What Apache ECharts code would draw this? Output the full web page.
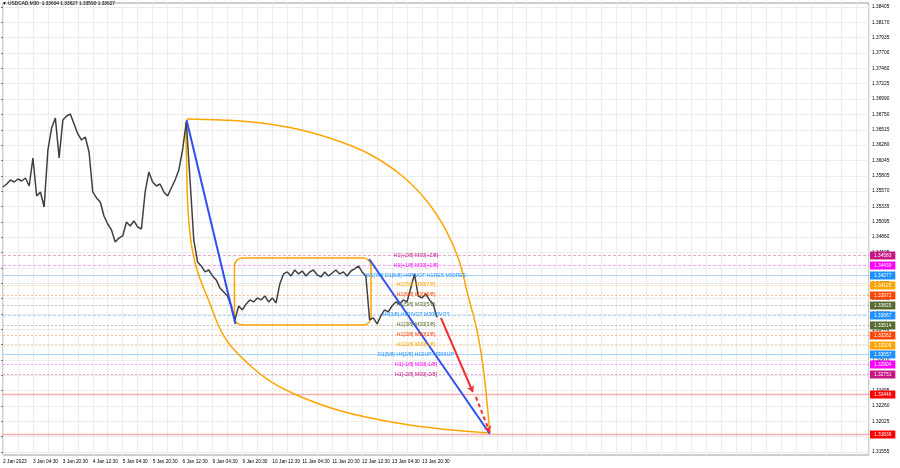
<!DOCTYPE html>
<html>
<head>
<meta charset="utf-8">
<script src="https://cdn.jsdelivr.net/npm/echarts@6/dist/echarts.min.js"></script>
<style>html,body{margin:0;padding:0;background:#fff}#c{width:900px;height:468px}</style>
</head>
<body>
<div id="c"></div>
<script>
// ---------- data ----------
const titleText = "\u25BC USDCAD,M30  1.33604 1.33627 1.33590 1.33627";
const timeLabels = ["2 Jan 2023","3 Jan 04:30","3 Jan 20:30","4 Jan 12:30","5 Jan 04:30","5 Jan 20:30","6 Jan 12:30","9 Jan 04:30","9 Jan 20:30","10 Jan 12:30","11 Jan 04:30","11 Jan 20:30","12 Jan 12:30","13 Jan 04:30","13 Jan 20:30"];
const priceTickLabels = ["1.31555","1.31790","1.32025","1.32260","1.32495","1.32735","1.32970","1.33210","1.33440","1.33680","1.33915","1.34155","1.34390","1.34625","1.34860","1.35095","1.35335","1.35570","1.35805","1.36045","1.36280","1.36515","1.36750","1.36990","1.37225","1.37460","1.37700","1.37935","1.38170","1.38405"];
// closes sampled every 4 M30 bars
const closes = [1.35635,1.35681,1.35743,1.35712,1.35758,1.35727,1.35773,1.35650,1.36081,1.35496,
1.35558,1.35327,1.36204,1.36543,1.36697,1.36081,1.36666,1.36728,1.36758,1.36604,
1.36451,1.36358,1.36404,1.36173,1.35558,1.35466,1.35404,1.35189,1.35065,1.34973,
1.34788,1.34850,1.34881,1.35096,1.35035,1.35112,1.35019,1.34988,1.35558,1.35866,
1.35712,1.35650,1.35681,1.35558,1.35496,1.35619,1.35743,1.35896,1.36204,1.36635,
1.35743,1.34819,1.34481,1.34419,1.34327,1.34357,1.34265,1.34204,1.34080,1.34019,
1.33957,1.33803,1.33588,1.33803,1.33742,1.33834,1.33896,1.33865,1.33927,1.33896,
1.33957,1.33865,1.33927,1.33850,1.34142,1.34296,1.34327,1.34265,1.34357,1.34296,
1.34342,1.34265,1.34327,1.34357,1.34281,1.34250,1.34327,1.34265,1.34311,1.34357,
1.34296,1.34327,1.34265,1.34342,1.34373,1.34419,1.34327,1.34265,1.33588,1.33619,
1.33526,1.33650,1.33742,1.33711,1.33803,1.33865,1.33834,1.33896,1.33865,1.34080,
1.34296,1.33957,1.33927,1.33988,1.33896,1.33834,1.33627];
const barStep = 4;

const levelValues = [1.34583,1.34430,1.34277,1.34125,1.33972,1.33820,1.33667,1.33514,1.33362,1.33209,1.33057,1.32904,1.32751];
const levelTexts = ["H1[+2/8] M30[+2/8]","H1[+1/8] M30[+1/8]","W1[7/8] D1[6/8] H4PIVOT H1RES M30RES","H1[7/8] M30[7/8]","H1[6/8] M30[6/8]","H1[5/8] M30[5/8]","H4[3/8] H1PIVOT M30PIVOT","H1[3/8] M30[3/8]","H1[2/8] M30[2/8]","H1[1/8] M30[1/8]","D1[5/8] H4[2/8] H1SUP M30SUP","H1[-1/8] M30[-1/8]","H1[-2/8] M30[-2/8]"];
const redLevels = [1.32446, 1.31836];

// annotation anchors (bar index, price)
const blueLineA = [[196.3,1.36666],[248.5,1.33525]];
const blueLineB = [[391.5,1.34526],[520.5,1.31836]];
const redArrowSolid = [[468.3,1.33618],[502.4,1.32479]];
const redArrowDashed = [[505.6,1.32402],[520.5,1.31861]];
const boxTimes = [247.5, 393.6];
const boxPrices = [1.34541, 1.33510];
const arcUpperTimes = [196.3,233.6,276.3,318.9,361.6,393.6,425.6,452.3,473.6,487.5,497.1,506.7,513.1,517.3,520.5];
const arcUpperPrices = [1.36681,1.36666,1.36619,1.36512,1.36327,1.36127,1.35819,1.35434,1.34972,1.34511,1.33972,1.33433,1.32894,1.32355,1.31847];
const arcLowerTimes = [195.2,196.3,197.3,200.5,206.9,219.7,236.8,260.3,286.9,318.9,361.6,414.9,468.3,520.5];
const arcLowerPrices = [1.36635,1.36050,1.35434,1.34849,1.34387,1.33895,1.33325,1.32940,1.32633,1.32402,1.32186,1.32017,1.31909,1.31847];

// ---------- styles ----------
const levelColors = ['#c71585','#ff00ff','#1e90ff','#ffa500','#ff4500','#556b2f','#1e90ff','#556b2f','#ff4500','#ffa500','#1e90ff','#ff00ff','#c71585'];
const levelDash = [[3,2],[3,2],null,[2,2],[2,2],[2,2],[3,2],[2,2],[2,2],[2,2],null,[2,2],[2,2]];
const redColor = '#ff0000';
const FONT = 'Liberation Sans';
const FS = 4.8;
const FS_TEXT = 5.2;
const TEXT_X = 441.6; // bar index where level captions are centred

const priceData = closes.map((c,i)=>[i*barStep, c]);
const zip = (a,b)=>a.map((v,i)=>[v,b[i]]);

const allLevels = levelValues.map((v,i)=>[v,i]).concat(redLevels.map((v,i)=>[v, levelValues.length+i]));
function levelStyle(idx){
  if (idx < levelValues.length) return {color:levelColors[idx], dash:levelDash[idx], width:1, opacity:0.38};
  return {color:redColor, dash:null, width:1.6, opacity:0.32};
}

const chart = echarts.init(document.getElementById('c'), null, {renderer:'canvas'});
chart.setOption({
  animation:false,
  backgroundColor:'#ffffff',
  title:{text:titleText, left:2, top:1, padding:0, textStyle:{fontSize:FS, fontWeight:'normal', color:'#000', fontFamily:FONT}},
  grid:[
    {left:1, right:31, top:3, bottom:13, show:true, borderColor:'#9a9a9a', borderWidth:1, backgroundColor:'transparent'},
    {left:1, right:31, top:7, bottom:16, show:false}
  ],
  xAxis:[
    {type:'value', gridIndex:0, min:0, max:926, interval:16,
     axisLine:{show:false}, axisTick:{show:false},
     axisLabel:{show:true, align:'left', margin:4, fontSize:FS, fontFamily:FONT, color:'#000', showMaxLabel:false, showMinLabel:true,
       formatter:(v)=>{ if (v%32!==0) return ''; const k=v/32; return k<timeLabels.length?timeLabels[k]:''; }},
     splitLine:{show:true, lineStyle:{color:'#ececec', width:1}}},
    {type:'value', gridIndex:1, min:0, max:1, show:false}
  ],
  yAxis:[
    {type:'value', gridIndex:0, min:1.31509, max:1.38467, position:'right', scale:true,
     axisLine:{show:false}, axisTick:{show:false}, axisLabel:{show:false}, splitLine:{show:false}},
    {type:'category', gridIndex:1, position:'right', boundaryGap:false, data:priceTickLabels,
     axisLine:{show:false}, axisTick:{show:true, length:2, inside:false, lineStyle:{color:'#777'}},
     axisLabel:{show:true, margin:3, fontSize:FS, fontFamily:FONT, color:'#000', interval:0, align:'left'},
     splitLine:{show:true, interval:0, lineStyle:{color:'#ececec', width:1}}}
  ],
  series:[
    {type:'custom', name:'levels', xAxisIndex:0, yAxisIndex:0, silent:true, z:2, clip:false,
     data:allLevels,
     renderItem:(params, api)=>{
       const v = api.value(0), idx = api.value(1);
       const st = levelStyle(idx);
       const cs = params.coordSys;
       const y = Math.round(api.coord([0, v])[1]) + 0.5;
       return {type:'group', children:[
         {type:'line', shape:{x1:cs.x, y1:y, x2:cs.x+cs.width, y2:y},
          style:{stroke:st.color, lineWidth:st.width, lineDash:st.dash, opacity:st.opacity}},
         {type:'text', z2:10, style:{text:v.toFixed(5), x:cs.x+cs.width+1, y:y, align:'left', verticalAlign:'middle',
           fill:'#fff', font:FS+'px "'+FONT+'"', backgroundColor:st.color, padding:[1.5,4,1.5,4]}}
       ]};
     }},
    {type:'custom', name:'box', xAxisIndex:0, yAxisIndex:0, silent:true,
     data:[[boxTimes[0], boxPrices[0], boxTimes[1], boxPrices[1]]],
     renderItem:(params, api)=>{
       const p0 = api.coord([api.value(0), api.value(1)]);
       const p1 = api.coord([api.value(2), api.value(3)]);
       return {type:'rect', shape:{x:p0[0], y:p0[1], width:p1[0]-p0[0], height:p1[1]-p0[1], r:8},
               style:{fill:'none', stroke:'#ffa500', lineWidth:1.5}};
     }, z:3},
    {type:'line', name:'arcUpper', data:zip(arcUpperTimes, arcUpperPrices), smooth:0.4, showSymbol:false,
     lineStyle:{color:'#ffa500', width:1.5}, silent:true, z:3},
    {type:'line', name:'arcLower', data:zip(arcLowerTimes, arcLowerPrices), smooth:0.4, showSymbol:false,
     lineStyle:{color:'#ffa500', width:1.5}, silent:true, z:3},
    {type:'line', name:'USDCAD', data:priceData, showSymbol:false, lineStyle:{color:'#404040', width:1.5}, silent:true, z:4},
    {type:'lines', name:'blue', coordinateSystem:'cartesian2d', polyline:false, silent:true, z:5,
     lineStyle:{color:'#2f4ff0', width:2, opacity:1},
     data:[{coords:blueLineA},{coords:blueLineB}]},
    {type:'lines', name:'redSolid', coordinateSystem:'cartesian2d', silent:true, z:5,
     symbol:['none','arrow'], symbolSize:6,
     lineStyle:{color:'#f03030', width:2, opacity:1, type:'solid'},
     data:[{coords:redArrowSolid}]},
    {type:'lines', name:'redDashed', coordinateSystem:'cartesian2d', silent:true, z:5,
     symbol:['none','arrow'], symbolSize:6,
     lineStyle:{color:'#f03030', width:2, opacity:1, type:[4,3]},
     data:[{coords:redArrowDashed}]},
    {type:'custom', name:'levelTexts', xAxisIndex:0, yAxisIndex:0, silent:true, z:6, clip:false,
     data:levelValues.map((v,i)=>[v,i]),
     renderItem:(params, api)=>{
       const v = api.value(0), idx = api.value(1);
       const p = api.coord([TEXT_X, v]);
       return {type:'text', style:{text:levelTexts[idx], x:p[0], y:p[1], align:'center', verticalAlign:'middle',
         fill:levelColors[idx], font:FS_TEXT+'px "'+FONT+'"'}};
     }}
  ]
});
</script>
</body>
</html>
